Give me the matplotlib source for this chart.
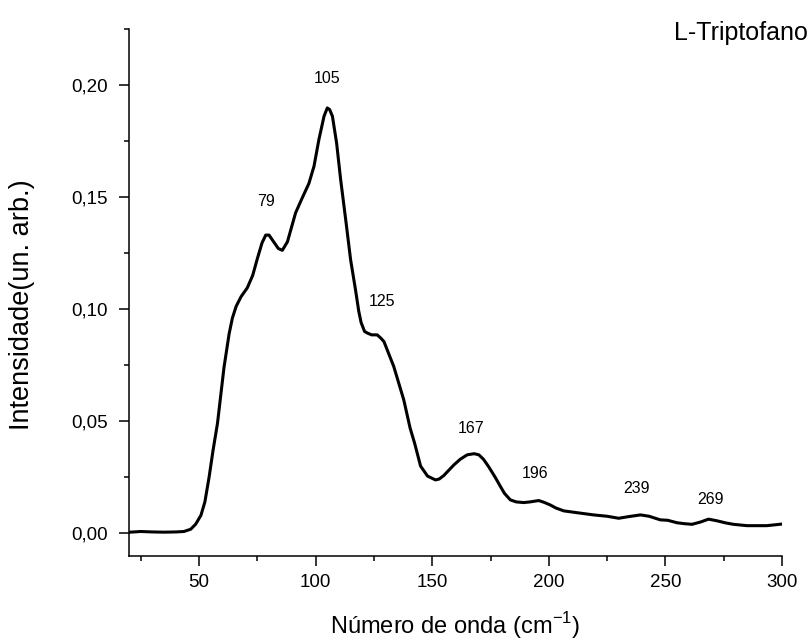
"""L-Triptofano espectro"""

import matplotlib
matplotlib.use("Agg")
import matplotlib.pyplot as plt
from matplotlib.ticker import MultipleLocator, FuncFormatter

plt.rcParams["font.family"] = ["Liberation Sans", "DejaVu Sans"]
plt.rcParams["mathtext.fontset"] = "custom"
plt.rcParams["mathtext.rm"] = "Liberation Sans"

# número de onda (cm-1)
wavenumber = [
    20.5, 25, 30, 35, 40, 43.5, 46.4, 48.5, 50.8, 52.5,
    54.3, 56, 57.9, 60.7, 62.9, 64.3, 65.9, 68.0, 70.7, 73,
    75, 77, 78.6, 80, 82, 84, 85.7, 87.9, 91.4, 94,
    97.1, 99.3, 101.4, 103.6, 105, 106, 107.2, 109, 110.7, 113,
    115, 117.1, 118.5, 119.5, 121, 122.2, 124, 126.4, 128, 129.3,
    131, 133.5, 137.8, 140.5, 142.5, 145, 148, 151.4, 153, 155,
    157, 159.3, 162, 165, 168, 170, 172, 174.2, 177, 179.3,
    181, 183.5, 186, 189.2, 192, 195.7, 198, 200.7, 203, 206.4,
    212, 219.2, 225, 230, 234, 239.3, 243, 247.8, 251, 255,
    258, 261.4, 265, 268.5, 272, 276, 279.2, 285, 293.5, 299.9,
]
# intensidade (un. arb.)
intensity = [
    0.0005, 0.0008, 0.0006, 0.0005, 0.0006, 0.0008, 0.0018, 0.0040, 0.0080, 0.0140,
    0.0250, 0.0370, 0.0490, 0.0740, 0.0890, 0.0960, 0.1012, 0.1055, 0.1095, 0.1150,
    0.1225, 0.1295, 0.1330, 0.1330, 0.1300, 0.1270, 0.1262, 0.1300, 0.1429, 0.1490,
    0.1560, 0.1637, 0.1756, 0.1860, 0.1897, 0.1890, 0.1860, 0.1740, 0.1580, 0.1390,
    0.1220, 0.1086, 0.0990, 0.0940, 0.0900, 0.0893, 0.0885, 0.0885, 0.0870, 0.0855,
    0.0810, 0.0744, 0.0595, 0.0470, 0.0400, 0.0300, 0.0255, 0.0238, 0.0242, 0.0258,
    0.0280, 0.0305, 0.0330, 0.0350, 0.0355, 0.0350, 0.0330, 0.0297, 0.0250, 0.0208,
    0.0178, 0.0149, 0.0140, 0.0137, 0.0140, 0.0146, 0.0138, 0.0126, 0.0113, 0.0100,
    0.0092, 0.0082, 0.0076, 0.0067, 0.0074, 0.0082, 0.0076, 0.0060, 0.0058, 0.0047,
    0.0043, 0.0040, 0.0050, 0.0063, 0.0056, 0.0046, 0.0040, 0.0034, 0.0034, 0.0041,
]

# rótulos dos picos
peak_labels = ["79", "105", "125", "167", "196", "239", "269"]
peak_x = [78.9, 105, 128.6, 166.8, 194, 237.8, 269.5]
peak_y = [0.148, 0.203, 0.1034, 0.0469, 0.0268, 0.0200, 0.0149]

fig = plt.figure(figsize=(8.12, 6.40), dpi=100)
ax = fig.add_axes([0.159, 0.131, 0.804, 0.824])

ax.plot(wavenumber, intensity, color="black", linewidth=2.2, solid_joinstyle="round")

for lab, x, y in zip(peak_labels, peak_x, peak_y):
    ax.text(x, y, lab, ha="center", va="center", fontsize=11.5)

ax.set_xlim(20, 300)
ax.set_ylim(-0.0102, 0.225)

ax.xaxis.set_major_locator(MultipleLocator(50))
ax.xaxis.set_minor_locator(MultipleLocator(25))
ax.yaxis.set_major_locator(MultipleLocator(0.05))
ax.yaxis.set_minor_locator(MultipleLocator(0.025))
ax.yaxis.set_major_formatter(FuncFormatter(lambda v, p: f"{v:.2f}".replace(".", ",")))

ax.spines["top"].set_visible(False)
ax.spines["right"].set_visible(False)
for s in ("left", "bottom"):
    ax.spines[s].set_linewidth(1.1)

ax.tick_params(which="major", direction="out", length=7.2, width=1.1, labelsize=13.5, pad=6)
ax.tick_params(axis="y", which="major", pad=8)
ax.tick_params(which="minor", direction="out", length=3.6, width=1.1)

ax.set_xlabel("Número de onda (cm$^{\\mathrm{-1}}$)", fontsize=17)
ax.set_ylabel("Intensidade(un. arb.)", fontsize=19.5)
ax.xaxis.set_label_coords(0.5, -0.102)
ax.yaxis.set_label_coords(-0.144, 0.477)

fig.text(0.995, 0.948, "L-Triptofano", ha="right", va="center", fontsize=18)

fig.savefig("out.png", dpi=100)
